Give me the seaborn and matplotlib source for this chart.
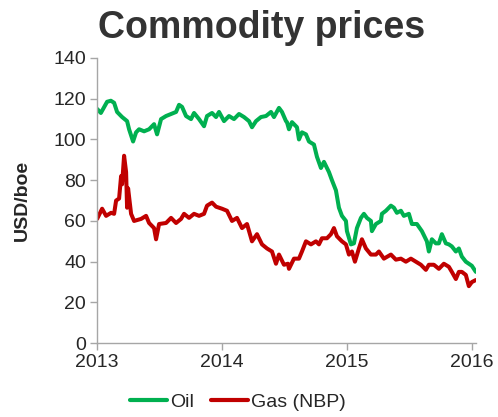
import matplotlib
matplotlib.use("Agg")
import matplotlib.pyplot as plt
import seaborn as sns
import pandas as pd

# ---- data (decimal years, USD/boe) ----
oil_t = [2013.000, 2013.030, 2013.080, 2013.110, 2013.136, 2013.160, 2013.200, 2013.240,
         2013.256, 2013.288, 2013.312, 2013.336, 2013.376, 2013.416, 2013.456, 2013.480,
         2013.512, 2013.552, 2013.592, 2013.632, 2013.656, 2013.680, 2013.712, 2013.752,
         2013.776, 2013.816, 2013.856, 2013.880, 2013.920, 2013.952, 2013.976, 2014.016,
         2014.056, 2014.096, 2014.136, 2014.176, 2014.216, 2014.240, 2014.272, 2014.312,
         2014.352, 2014.392, 2014.416, 2014.456, 2014.480, 2014.512, 2014.520, 2014.536,
         2014.560, 2014.600, 2014.616, 2014.640, 2014.672, 2014.696, 2014.736, 2014.760,
         2014.792, 2014.816, 2014.856, 2014.880, 2014.912, 2014.936, 2014.960, 2014.992,
         2015.000, 2015.032, 2015.056, 2015.080, 2015.112, 2015.136, 2015.160, 2015.192,
         2015.200, 2015.232, 2015.272, 2015.280, 2015.312, 2015.352, 2015.376, 2015.400,
         2015.432, 2015.456, 2015.496, 2015.520, 2015.560, 2015.600, 2015.640, 2015.656,
         2015.680, 2015.712, 2015.736, 2015.760, 2015.792, 2015.816, 2015.840, 2015.872,
         2015.896, 2015.920, 2015.952, 2015.976, 2016.000, 2016.032]
oil_v = [115, 113, 118.5, 119, 118, 113.5, 111, 109,
         105, 99, 103.5, 105, 104, 105, 107.5, 102.5,
         110, 111.5, 112.5, 113.5, 117, 116, 111.5, 110,
         113, 110, 106.5, 111.5, 113, 111, 113.5, 109,
         111.5, 110, 112.5, 111, 109, 106, 109, 111,
         111.5, 113.5, 111, 115.5, 113.5, 109, 108.5, 105,
         108.5, 106, 100, 103.5, 102.5, 99, 97.5, 91.5,
         86, 89, 84, 80, 75, 66.5, 62.5, 60,
         55, 48.5, 49, 56.5, 61.5, 63.5, 61.5, 60,
         55, 58.5, 60, 63.5, 65, 67.5, 66.5, 64,
         65, 62.5, 63.5, 58.5, 58.5, 55, 50, 45,
         51, 49, 49, 53.5, 49, 48.5, 47.5, 45,
         46.5, 42.5, 40, 39, 38, 35]

gas_t = [2013.000, 2013.040, 2013.072, 2013.112, 2013.136, 2013.152, 2013.176, 2013.192,
         2013.200, 2013.216, 2013.232, 2013.240, 2013.248, 2013.272, 2013.296, 2013.352,
         2013.392, 2013.416, 2013.456, 2013.472, 2013.496, 2013.552, 2013.592, 2013.632,
         2013.672, 2013.696, 2013.736, 2013.776, 2013.816, 2013.856, 2013.880, 2013.920,
         2013.952, 2014.000, 2014.040, 2014.080, 2014.120, 2014.160, 2014.200, 2014.240,
         2014.280, 2014.320, 2014.360, 2014.400, 2014.432, 2014.456, 2014.496, 2014.528,
         2014.536, 2014.576, 2014.616, 2014.640, 2014.672, 2014.712, 2014.752, 2014.776,
         2014.800, 2014.840, 2014.872, 2014.896, 2014.920, 2014.960, 2014.992, 2015.016,
         2015.040, 2015.064, 2015.096, 2015.120, 2015.152, 2015.192, 2015.232, 2015.256,
         2015.296, 2015.352, 2015.392, 2015.432, 2015.472, 2015.512, 2015.552, 2015.592,
         2015.632, 2015.656, 2015.696, 2015.736, 2015.776, 2015.816, 2015.840, 2015.872,
         2015.896, 2015.920, 2015.952, 2015.976, 2016.000, 2016.032]
gas_v = [61, 66, 62.5, 64, 63.5, 70, 71, 82,
         78, 92, 84, 66.5, 76, 63.5, 60, 61,
         62.5, 59, 56.5, 51, 58.5, 59, 61.5, 59,
         61, 63.5, 61.5, 63.5, 62.5, 63.5, 67.5, 69,
         67, 66, 65, 60, 61.5, 56.5, 58.5, 50,
         53.5, 48.5, 46.5, 45, 39, 43.5, 38.5, 39,
         36.5, 41.5, 41.5, 45, 50, 48.5, 50, 48.5,
         51.5, 51.5, 53.5, 56.5, 52.5, 50, 48.5, 43.5,
         45, 40, 46.5, 51, 46.5, 43.5, 43.5, 45,
         41.5, 43.5, 41, 41.5, 40, 41.5, 40, 38.5,
         36, 38.5, 38.5, 36.5, 39, 37.5, 35, 31.5,
         35, 35, 33.5, 28, 30, 31]

series_names = ["Oil", "Gas (NBP)"]
colors = ["#00B050", "#C00000"]
x_ticks = [2013, 2014, 2015, 2016]
y_ticks = [0, 20, 40, 60, 80, 100, 120, 140]

df = pd.concat([
    pd.DataFrame({"t": oil_t, "v": oil_v, "s": series_names[0]}),
    pd.DataFrame({"t": gas_t, "v": gas_v, "s": series_names[1]}),
])

sns.set_style("white")
plt.rcParams["font.family"] = ["Liberation Sans", "DejaVu Sans"]

fig = plt.figure(figsize=(4.98, 4.17), dpi=100)
ax = fig.add_axes([0.195, 0.177, 0.76, 0.684])

sns.lineplot(data=df, x="t", y="v", hue="s", palette=colors, linewidth=2.9,
             ax=ax, legend=True, sort=True)

ax.set_xlim(2013, 2016.03)
ax.set_ylim(0, 140)
ax.set_xticks(x_ticks)
ax.set_xticklabels([str(t) for t in x_ticks])
ax.set_yticks(y_ticks)
ax.set_xlabel("")
ax.set_ylabel("USD/boe", fontsize=14, fontweight="bold", color="#262626", labelpad=16)

for side in ["top", "right"]:
    ax.spines[side].set_visible(False)
for side in ["left", "bottom"]:
    ax.spines[side].set_color("#A6A6A6")
    ax.spines[side].set_linewidth(1.0)
ax.tick_params(axis="both", which="major", direction="out", length=5, width=1,
               color="#A6A6A6", labelsize=14, labelcolor="#262626",
               bottom=True, left=True, pad=3)

h, l = ax.get_legend_handles_labels()
ax.get_legend().remove()
for hh in h:
    hh.set_linewidth(3)
fig.legend(h, l, loc="center", bbox_to_anchor=(0.478, 0.036), ncol=2, frameon=False,
           fontsize=14, handlelength=1.9, handletextpad=0.15, columnspacing=0.9,
           labelcolor="#262626")

fig.text(0.526, 0.909, "Commodity prices", ha="center", va="baseline",
         fontsize=27, fontweight="bold", color="#333333")

fig.savefig("out.png", dpi=100)
